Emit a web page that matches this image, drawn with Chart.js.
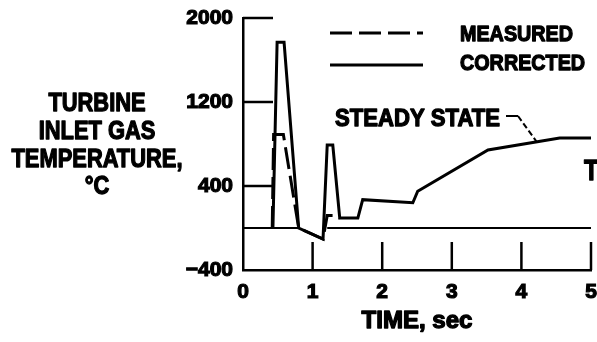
<!DOCTYPE html>
<html>
<head>
<meta charset="utf-8">
<script src="https://cdn.jsdelivr.net/npm/chart.js@4.4.1/dist/chart.umd.min.js"></script>
<style>
  html, body { margin: 0; padding: 0; background: #fff; }
  #wrap { width: 597px; height: 342px; position: relative; }
</style>
</head>
<body>
<div id="wrap"><canvas id="c" width="597" height="342"></canvas></div>
<script>
// ---- data ----
const yTicks = [-400, 400, 1200, 2000];
const xTicks = [0, 1, 2, 3, 4, 5];

const corrTime = [0.43, 0.49, 0.59, 0.80, 1.15, 1.21, 1.29, 1.39, 1.65, 1.72, 2.44, 2.51, 3.52, 4.55, 5.0];
const corrTemp = [0, 1770, 1770, 0, -105, 790, 790, 95, 95, 270, 240, 350, 743, 857, 857];

const measTime = [0.42, 0.44, 0.47, 0.58, 0.80, 1.15, 1.21, 1.31, 1.39];
const measTemp = [0, 890, 890, 890, 0, -105, 120, 120, 95];

const zeroTime = [0, 0.80, 1.0, 1.21, 5.0];
const zeroTemp = [0, 0, null, 0, 0];

const yTitleLines = ['TURBINE', 'INLET GAS', 'TEMPERATURE,', '°C'];
const xTitle = 'TIME, sec';
const steadyLabel = 'STEADY STATE';
const steadyPointTime = 4.22;
const edgeLabel = 'T';

const FONT = "'Liberation Sans', Arial, sans-serif";

const pts = (xs, ys) => xs.map((x, i) => ({ x: x, y: ys[i] }));

// draw heavy text compressed horizontally (condensed look)
function condText(ctx, s, x, y, sx) {
  ctx.save();
  ctx.translate(x, y);
  ctx.scale(sx, 1);
  ctx.lineWidth = 1.3;
  ctx.lineJoin = 'round';
  ctx.strokeText(s, 0, 0);
  ctx.fillText(s, 0, 0);
  ctx.restore();
}

const extras = {
  id: 'extras',
  afterDraw(chart) {
    const ctx = chart.ctx;
    const xs = chart.scales.x, ys = chart.scales.y;
    const area = chart.chartArea;
    ctx.save();
    ctx.strokeStyle = '#000';
    ctx.fillStyle = '#000';
    ctx.lineWidth = 2.5;
    // inward tick marks
    ys.ticks.forEach(t => {
      if (t.value === ys.min) return;
      const py = ys.getPixelForValue(t.value);
      ctx.beginPath(); ctx.moveTo(area.left, py); ctx.lineTo(area.left + 30, py); ctx.stroke();
    });
    xs.ticks.forEach(t => {
      if (t.value === xs.min) return;
      const px = xs.getPixelForValue(t.value);
      ctx.beginPath(); ctx.moveTo(px, area.bottom); ctx.lineTo(px, area.bottom - 28); ctx.stroke();
    });
    ctx.textBaseline = 'middle';
    // y title (centred lines, condensed)
    ctx.font = 'bold 26px ' + FONT;
    ctx.textAlign = 'center';
    const sxT = 171 / ctx.measureText('TEMPERATURE,').width;
    yTitleLines.forEach((s, i) => condText(ctx, s, 97, 104 + i * 27.7, sxT));
    // x title
    ctx.font = 'bold 23px ' + FONT;
    condText(ctx, xTitle, (area.left + area.right) / 2, 322, 111 / ctx.measureText(xTitle).width);
    // legend
    const dsM = chart.data.datasets[1], dsC = chart.data.datasets[0];
    ctx.lineWidth = 3;
    ctx.setLineDash(dsM.borderDash);
    ctx.beginPath(); ctx.moveTo(330, 33); ctx.lineTo(423, 33); ctx.stroke();
    ctx.setLineDash([]);
    ctx.beginPath(); ctx.moveTo(330, 65); ctx.lineTo(423, 65); ctx.stroke();
    ctx.font = 'bold 22px ' + FONT;
    ctx.textAlign = 'left';
    const sxL = 113 / ctx.measureText(dsM.label).width;
    condText(ctx, dsM.label, 460, 35, sxL);
    condText(ctx, dsC.label, 460, 64, sxL);
    // steady state annotation
    ctx.font = 'bold 24px ' + FONT;
    condText(ctx, steadyLabel, 335, 119, 165 / ctx.measureText(steadyLabel).width);
    const ax = xs.getPixelForValue(steadyPointTime);
    const ay = ys.getPixelForValue(corrTemp[12] + (corrTemp[13] - corrTemp[12]) * (steadyPointTime - corrTime[12]) / (corrTime[13] - corrTime[12]));
    ctx.lineWidth = 2;
    ctx.beginPath(); ctx.moveTo(506, 116); ctx.lineTo(518, 116); ctx.stroke();
    ctx.setLineDash([6, 3]);
    ctx.beginPath(); ctx.moveTo(518, 116); ctx.lineTo(ax, ay); ctx.stroke();
    ctx.setLineDash([]);
    // clipped label on the right edge
    ctx.font = 'bold 30px ' + FONT;
    condText(ctx, edgeLabel, 584, 172, 0.8);
    ctx.restore();
  }
};

new Chart(document.getElementById('c'), {
  type: 'line',
  data: {
    datasets: [
      { label: 'CORRECTED', data: pts(corrTime, corrTemp), borderColor: '#000', borderWidth: 3, pointRadius: 0, tension: 0, fill: false },
      { label: 'MEASURED', data: pts(measTime, measTemp), borderColor: '#000', borderWidth: 3, borderDash: [22, 7], pointRadius: 0, tension: 0, fill: false },
      { label: 'zero', data: pts(zeroTime, zeroTemp), borderColor: '#000', borderWidth: 2, pointRadius: 0, tension: 0, fill: false, spanGaps: false }
    ]
  },
  options: {
    responsive: false,
    animation: false,
    devicePixelRatio: 1,
    layout: { padding: { top: 18, right: 6, left: 0, bottom: 0 } },
    plugins: { legend: { display: false }, tooltip: { enabled: false } },
    scales: {
      x: {
        type: 'linear', min: 0, max: 5,
        afterBuildTicks: s => { s.ticks = xTicks.map(v => ({ value: v })); },
        afterFit: s => { s.height = 72; s.paddingLeft = 0; s.paddingRight = 0; },
        grid: { display: false, drawTicks: false },
        border: { display: true, color: '#000', width: 2.5 },
        ticks: { color: '#000', padding: 10, font: { family: FONT, size: 21, weight: 'bold' }, maxRotation: 0,
                 textStrokeColor: '#000', textStrokeWidth: 1.2 }
      },
      y: {
        type: 'linear', min: -400, max: 2000,
        afterBuildTicks: s => { s.ticks = yTicks.map(v => ({ value: v })); },
        afterFit: s => { s.width = 243; s.paddingTop = 0; s.paddingBottom = 0; },
        grid: { display: false, drawTicks: false },
        border: { display: true, color: '#000', width: 2.5 },
        ticks: { color: '#000', padding: 10, font: { family: FONT, size: 21, weight: 'bold' },
                 textStrokeColor: '#000', textStrokeWidth: 1.2,
                 callback: v => v < 0 ? '\u2212' + Math.abs(v) : String(v) }
      }
    }
  },
  plugins: [extras]
});
</script>
</body>
</html>
